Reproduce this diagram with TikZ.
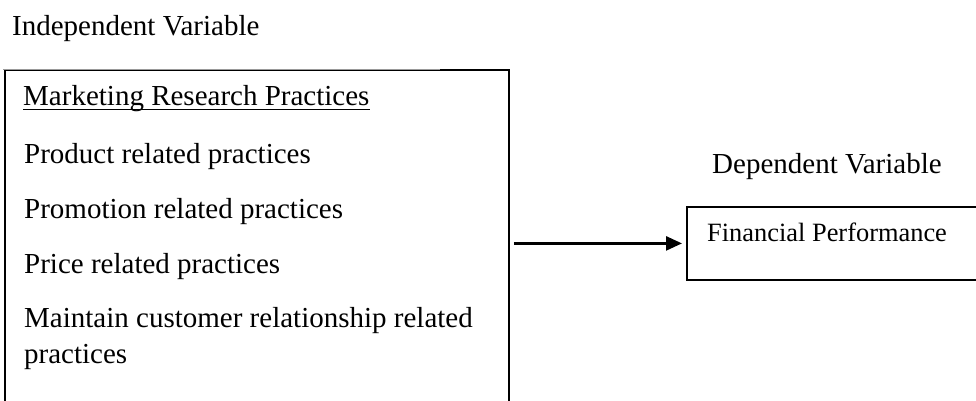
\documentclass[tikz,border=0pt]{standalone}
\usepackage{fontspec}
\setmainfont{Liberation Serif}
\usetikzlibrary{arrows.meta,calc}
\begin{document}
\begin{tikzpicture}[x=1pt,y=-1pt,
  txt/.style={anchor=base west,inner sep=0pt,font=\fontsize{29}{35}\selectfont},
  smalltxt/.style={anchor=base west,inner sep=0pt,font=\fontsize{26.4}{32}\selectfont},
  boxline/.style={draw=black,line width=1.8pt},
  conn/.style={-{Triangle[length=16pt,width=14pt]},line width=2.6pt}]
\useasboundingbox[fill=white] (0,0) rectangle (976,400);
% left box
\node[boxline,anchor=north west,minimum width=504pt,minimum height=360pt,inner sep=0pt] (lbox) at (4,69) {};
\draw[white,line width=2.5pt] ($(lbox.north west)+(-1,0)$) -- ++(437,0);
\draw[gray!80,line width=1pt] ($(lbox.north west)+(-0.9,0.5)$) -- ++(437,0);
% right box
\node[boxline,anchor=north west,minimum width=310pt,minimum height=73pt,inner sep=0pt] (rbox) at (686,206) {};
% texts
\node[txt] (iv) at (12,35) {Independent Variable};
\node[txt] (mrp) at (23,105) {Marketing Research Practices};
\draw[line width=1.8pt] ($(mrp.base west)+(0,4.5)$) -- ($(mrp.base east)+(0,4.5)$);
\node[txt] (p1) at (24,163) {Product related practices};
\node[txt] (p2) at (24,218) {Promotion related practices};
\node[txt] (p3) at (24,273) {Price related practices};
\node[txt] (p4) at (24,327) {Maintain customer relationship related};
\node[txt] (p5) at (24,363) {practices};
\node[txt] (dv) at (712,173) {Dependent Variable};
\node[smalltxt] (fp) at (707,241) {Financial Performance};
% arrow
\draw[conn,shorten <=4pt,shorten >=4pt] (lbox.east |- rbox.west) -- (rbox.west);
\end{tikzpicture}
\end{document}
